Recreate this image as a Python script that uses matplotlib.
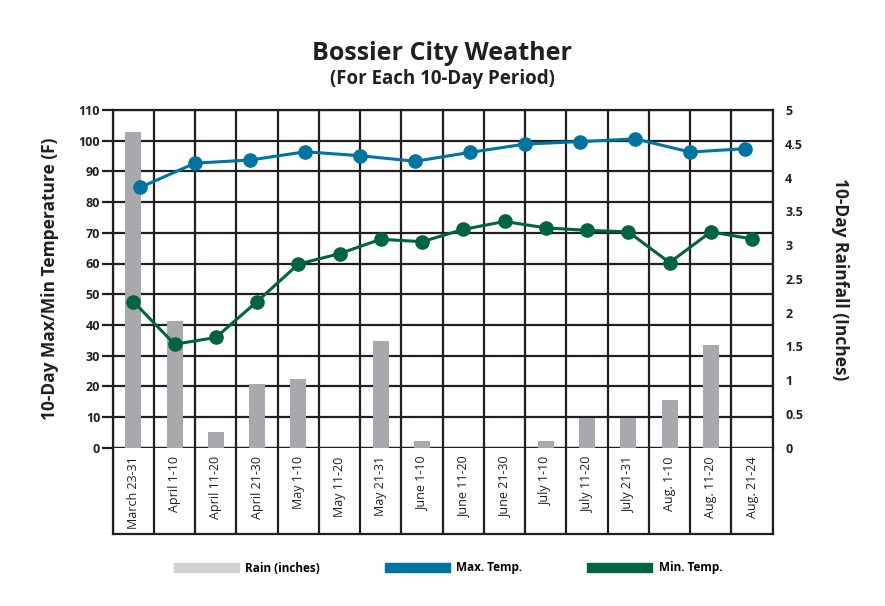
import numpy as np
import matplotlib
matplotlib.use("Agg")
import matplotlib.pyplot as plt
from matplotlib.patches import Patch
from matplotlib import font_manager

# данные
categories = ["March 23-31", "April 1-10", "April 11-20", "April 21-30",
              "May 1-10", "May 11-20", "May 21-31", "June 1-10",
              "June 11-20", "June 21-30", "July 1-10", "July 11-20",
              "July 21-31", "Aug. 1-10", "Aug. 11-20", "Aug. 21-24"]
rain = [4.68, 1.88, 0.23, 0.94, 1.02, 0.0, 1.58, 0.10,
        0.0, 0.0, 0.10, 0.44, 0.44, 0.71, 1.52, 0.0]
min_temp = [47.6, 33.7, 35.9, 47.6, 59.8, 63.2, 67.9, 67.1,
            71.1, 73.7, 71.6, 70.8, 70.3, 60.3, 70.3, 68.0]
# max temp has only 12 points, spread over the same width
max_temp = [84.8, 92.7, 93.7, 96.4, 95.1, 93.3, 96.2, 98.9,
            99.7, 100.6, 96.3, 97.4]
temp_ticks = list(range(0, 111, 10))
rain_ticks = [0, 0.5, 1, 1.5, 2, 2.5, 3, 3.5, 4, 4.5, 5]

INK = "#231f20"
BLUE = "#0074a0"
GREEN = "#006341"
BAR = "#a7a9ac"
BAR_LEG = "#d1d3d4"

names = {f.name for f in font_manager.fontManager.ttflist}
FONT = "Open Sans" if "Open Sans" in names else "DejaVu Sans"
NARROW = "Liberation Sans Narrow" if "Liberation Sans Narrow" in names else FONT
plt.rcParams["font.family"] = [FONT, "DejaVu Sans"]

W, H = 885, 606
fig = plt.figure(figsize=(W / 100, H / 100), dpi=100)

L, R, T, B, TB = 112.7, 772.7, 110.0, 447.7, 534.0
ax = fig.add_axes([L / W, 1 - B / H, (R - L) / W, (B - T) / H])
axb = fig.add_axes([L / W, 1 - TB / H, (R - L) / W, (TB - B) / H], sharex=ax)

n = len(categories)
x = np.arange(n)
lw = 1.6

# сетка
ax.set_xlim(-0.5, n - 0.5)
ax.set_ylim(0, 110)
ax.set_yticks(temp_ticks)
ax.set_xticks(np.arange(-0.5, n, 1), minor=True)
ax.set_xticks([])
ax.grid(True, which="minor", axis="x", color=INK, lw=lw)
ax.grid(True, which="major", axis="y", color=INK, lw=lw)
ax.tick_params(axis="x", which="both", length=0, labelbottom=False)
ax.tick_params(axis="y", length=8, width=lw, color=INK, pad=1,
               labelsize=9, labelcolor=INK)
for lab in ax.get_yticklabels():
    lab.set_fontweight("bold")
for s in ax.spines.values():
    s.set_color(INK)
    s.set_linewidth(lw)

# дождь
axr = ax.twinx()
axr.bar(x, rain, width=0.39, color=BAR, zorder=2)
axr.set_ylim(0, 5)
axr.set_yticks(rain_ticks)
axr.set_yticklabels([f"{v:g}" for v in rain_ticks])
axr.tick_params(axis="y", length=0, pad=9, labelsize=9, labelcolor=INK)
for lab in axr.get_yticklabels():
    lab.set_fontweight("bold")
for s in axr.spines.values():
    s.set_visible(False)

# мин. температура
axm = ax.twiny()
axm.set_xlim(-0.5, n - 0.5)
axm.plot(x, min_temp, color=GREEN, lw=2.2, marker="o", ms=9.5, clip_on=False)
axm.xaxis.set_visible(False)
for s in axm.spines.values():
    s.set_visible(False)

# макс. температура
axx = ax.twiny()
xm = np.arange(len(max_temp))
axx.set_xlim(-0.5, len(max_temp) - 0.5)
axx.plot(xm, max_temp, color=BLUE, lw=2.2, marker="o", ms=9.5, clip_on=False)
axx.xaxis.set_visible(False)
for s in axx.spines.values():
    s.set_visible(False)

# таблица подписей
axb.set_ylim(0, 1)
axb.set_yticks([])
axb.tick_params(axis="x", which="both", length=0, labelbottom=False)
axb.grid(True, which="minor", axis="x", color=INK, lw=lw)
for s in axb.spines.values():
    s.set_color(INK)
    s.set_linewidth(lw)
axb.spines["top"].set_visible(False)
for i, c in enumerate(categories):
    axb.text(i, 0.9, c, rotation=90, ha="center", va="top",
             fontsize=9, color=INK, transform=axb.get_xaxis_transform())

# подписи
fig.text(0.5, 1 - 53 / H, "Bossier City Weather", ha="center", va="center",
         fontsize=18, fontweight="bold", color=INK)
fig.text(0.5, 1 - 79 / H, "(For Each 10-Day Period)", ha="center",
         va="center", fontsize=13.5, fontweight="bold", color=INK)
fig.text(50 / W, 1 - (T + B) / 2 / H, "10-Day Max/Min Temperature (F)",
         rotation=90, ha="center", va="center", fontsize=12.5,
         fontweight="bold", color=INK)
fig.text(840 / W, 1 - (T + B) / 2 / H, "10-Day Rainfall (Inches)",
         rotation=270, ha="center", va="center", fontsize=12.5,
         fontweight="bold", color=INK)

handles = [Patch(color=BAR_LEG, label="Rain (inches)"),
           Patch(color=BLUE, label="Max. Temp."),
           Patch(color=GREEN, label="Min. Temp.")]
fig.legend(handles=handles, loc="center", bbox_to_anchor=(448 / W, 1 - 568 / H),
           ncol=3, frameon=False, handlelength=5.5, handleheight=0.9,
           handletextpad=0.55, columnspacing=5.5, borderpad=0,
           prop={"family": NARROW, "weight": "bold", "size": 8.5})

fig.savefig("out.png", dpi=100)
